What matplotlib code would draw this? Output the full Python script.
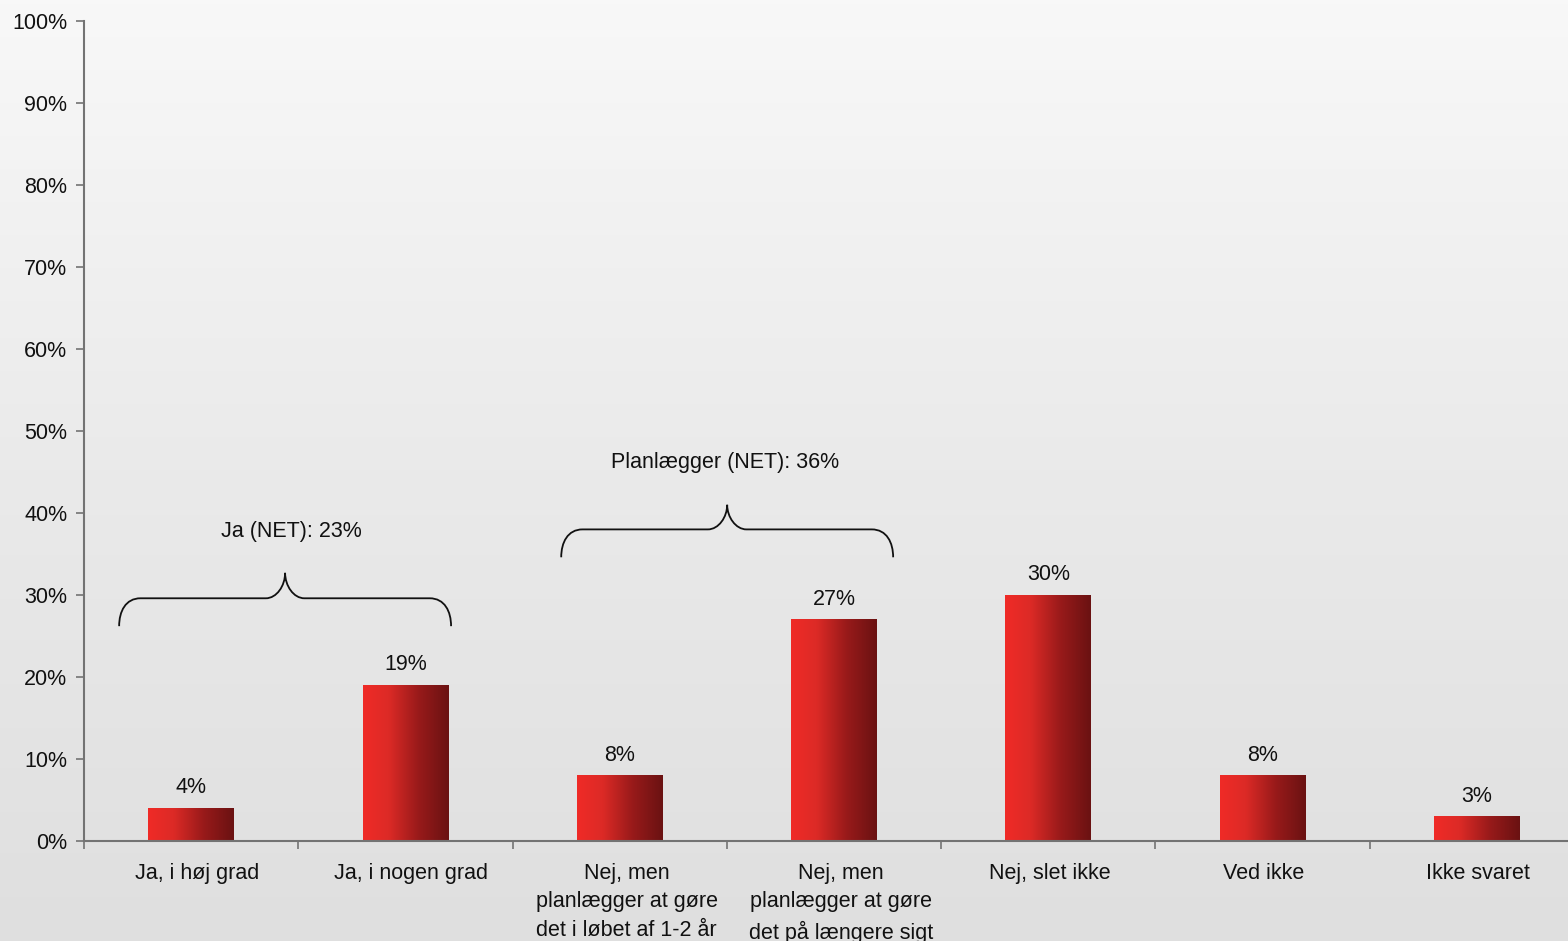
import numpy as np
import matplotlib
matplotlib.use('Agg')
import matplotlib.pyplot as plt
from matplotlib.colors import LinearSegmentedColormap
from matplotlib.path import Path
from matplotlib.patches import PathPatch
from matplotlib.transforms import ScaledTranslation

categories = ["Ja, i høj grad", "Ja, i nogen grad",
              "Nej, men\nplanlægger at gøre\ndet i løbet af 1-2 år",
              "Nej, men\nplanlægger at gøre\ndet på længere sigt",
              "Nej, slet ikke", "Ved ikke", "Ikke svaret"]
values = [4, 19, 8, 27, 30, 8, 3]
value_labels = ["4%", "19%", "8%", "27%", "30%", "8%", "3%"]
yticks = list(range(0, 101, 10))
ytick_labels = [f"{t}%" for t in yticks]
net_labels = ["Ja (NET): 23%", "Planlægger (NET): 36%"]
net_first = [0, 2]
net_last = [1, 3]

plt.rcParams['font.family'] = ['Liberation Sans', 'DejaVu Sans']
FS = 15.5
TXT = '#111111'
AXC = '#737373'

fig = plt.figure(figsize=(15.68, 9.41), dpi=100)

# background gradient
bg = fig.add_axes([0, 0, 1, 1], zorder=-10)
grad = np.linspace(0, 1, 256).reshape(-1, 1)
bg.imshow(grad, aspect='auto',
          cmap=LinearSegmentedColormap.from_list('bg', ['#f8f8f8', '#eaeaea', '#dfdfdf']),
          extent=[0, 1, 0, 1], origin='upper')
bg.axis('off')

ax = fig.add_axes([84 / 1568, 100 / 941, 1500 / 1568, 820 / 941])
ax.patch.set_alpha(0)

x = np.arange(len(categories))
bars = ax.bar(x, values, width=0.4, color='none', edgecolor='none')

redmap = LinearSegmentedColormap.from_list(
    'red', [(0, '#f02b27'), (0.3, '#dc2a26'), (0.65, '#981a1a'), (1, '#6a1212')])
hgrad = np.linspace(0, 1, 256).reshape(1, -1)
for b in bars:
    x0, w, h = b.get_x(), b.get_width(), b.get_height()
    ax.imshow(hgrad, aspect='auto', cmap=redmap, extent=[x0, x0 + w, 0, h],
              origin='lower', zorder=2, interpolation='bicubic')

for xi, v, lab in zip(x, values, value_labels):
    ax.text(xi, v + 1.8, lab, ha='center', va='baseline', fontsize=FS, color=TXT)

ax.set_xlim(-0.5, len(categories) - 0.5)
ax.set_ylim(0, 100)

ax.set_yticks(yticks)
ax.set_yticklabels(ytick_labels, fontsize=FS, color=TXT)
ax.set_xticks(x)
ax.set_xticklabels(categories, fontsize=FS, color=TXT, linespacing=1.45)
ax.set_xticks(np.arange(-0.5, len(categories), 1), minor=True)
ax.tick_params(axis='x', which='major', length=0, pad=16)
ax.tick_params(axis='x', which='minor', length=6, width=1.2, color=AXC, direction='out')
ax.tick_params(axis='y', length=6, width=1.2, color=AXC, direction='out', pad=6)
label_shift_px = [6, 6, 7, 7, 2, 1, 1]
for lbl, sp in zip(ax.get_xticklabels(), label_shift_px):
    lbl.set_transform(lbl.get_transform() + ScaledTranslation(sp / 100, 0, fig.dpi_scale_trans))

for s in ['top', 'right']:
    ax.spines[s].set_visible(False)
for s in ['left', 'bottom']:
    ax.spines[s].set_color(AXC)
    ax.spines[s].set_linewidth(1.5)


def brace(ax, x0, x1, y_end, y_h, y_tip):
    xm = (x0 + x1) / 2
    c = 0.1
    t = 0.09
    verts = [
        (x0, y_end),
        (x0, y_h - 1.6), (x0 + 0.03, y_h), (x0 + c, y_h),
        (xm - t, y_h),
        (xm - 0.04, y_h), (xm, y_h + 1.5), (xm, y_tip),
        (xm, y_h + 1.5), (xm + 0.04, y_h), (xm + t, y_h),
        (x1 - c, y_h),
        (x1 - 0.03, y_h), (x1, y_h - 1.6), (x1, y_end),
    ]
    codes = [Path.MOVETO,
             Path.CURVE4, Path.CURVE4, Path.CURVE4,
             Path.LINETO,
             Path.CURVE4, Path.CURVE4, Path.CURVE4,
             Path.CURVE4, Path.CURVE4, Path.CURVE4,
             Path.LINETO,
             Path.CURVE4, Path.CURVE4, Path.CURVE4]
    ax.add_patch(PathPatch(Path(verts, codes), facecolor='none',
                           edgecolor='#111111', lw=1.3, zorder=3, clip_on=False))


# brace layout (start offset, end offset, end y, horizontal y, tip y, label x offset, label y)
brace_layout = [(-0.336, 0.213, 26.2, 29.6, 32.7, 0.03, 37.8),
                (-0.273, 0.276, 34.6, 38.0, 41.0, -0.01, 46.1)]
for lab, a, b, lay in zip(net_labels, net_first, net_last, brace_layout):
    so, eo, ye, yh, yt, lx, ly = lay
    x0, x1 = a + so, b + eo
    brace(ax, x0, x1, ye, yh, yt)
    ax.text((x0 + x1) / 2 + lx, ly, lab, ha='center', va='center', fontsize=FS, color=TXT)

fig.savefig('out.png', dpi=100)
